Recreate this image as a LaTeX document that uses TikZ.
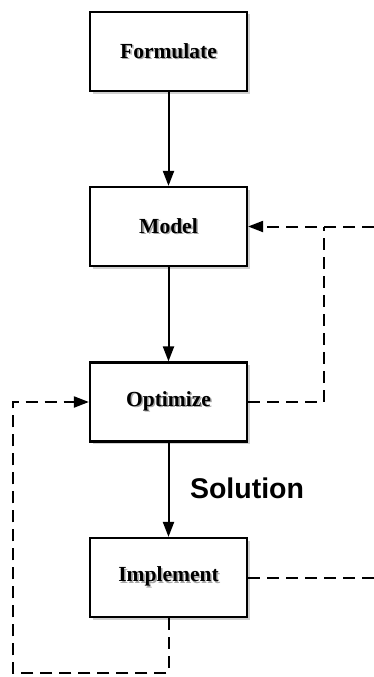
\documentclass[tikz,border=0pt]{standalone}
\usepackage{fontspec}
\setmainfont{Liberation Serif}
\newfontfamily\solfont{Liberation Sans}
\usetikzlibrary{arrows.meta,shadows}
\newcommand{\shtext}[1]{\rlap{\raisebox{-1.6pt}{\kern1.6pt\textcolor{black!35}{#1}}}#1}
\begin{document}
\begin{tikzpicture}[x=1pt,y=-1pt,
  box/.style={draw=black, line width=2.2pt, fill=white, minimum width=157pt, minimum height=79pt,
    inner sep=0pt, font=\fontsize{21.5}{24}\selectfont\bfseries,
    drop shadow={shadow xshift=2.5pt, shadow yshift=-2.5pt, fill=black!30, opacity=0.6}},
  arr/.style={line width=2pt, -{Triangle[length=15pt,width=11pt]}},
  dashline/.style={line width=2pt, dash pattern=on 12pt off 7pt},
  dasharr/.style={dashline, -{Triangle[length=15pt,width=11pt]}}]
\fill[white] (0,0) rectangle (374,677);
\useasboundingbox (0,0) rectangle (374,677);
\node[box] (F) at (168.5,51.5) {\shtext{Formulate}};
\node[box] (M) at (168.5,226.5) {\shtext{Model}};
\node[box] (O) at (168.5,402) {\shtext{Optimize}};
\node[box] (I) at (168.5,577.5) {\shtext{Implement}};
\draw[arr] (F) -- (M);
\draw[arr] (M) -- (O);
\draw[arr] (O) -- (I);
\node[font=\solfont\fontsize{28.5}{30}\selectfont\bfseries] (S) at (247,488) {Solution};
\coordinate (rc) at (324,226.5);
\coordinate (re) at (374,226.5);
\coordinate (ie) at (374,577.5);
\coordinate (lb) at (13,673);
\draw[dashline] (O.east) -| (rc);
\draw[dasharr] (re) -- (M.east);
\draw[dashline] (I.east) -- (ie);
\draw[dasharr] (I.south) |- (lb) |- (O.west);
\end{tikzpicture}
\end{document}
